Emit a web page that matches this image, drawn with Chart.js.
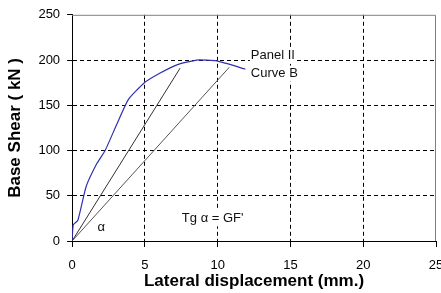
<!DOCTYPE html>
<html>
<head>
<meta charset="utf-8">
<script src="https://cdn.jsdelivr.net/npm/chart.js@4"></script>
<style>
  html, body { margin: 0; padding: 0; background: #fff; }
  #wrap { width: 441px; height: 293px; }
</style>
</head>
<body>
<div id="wrap"><canvas id="myChart" width="441" height="293"></canvas></div>
<script>
// curve B (blue)
const curveX = [0, 0.08, 0.4, 0.96, 1.7, 2.27, 3.07, 3.87, 4.95, 6.05, 7.2, 8.57, 9.94, 11.9];
const curveY = [0, 18, 23, 60, 85.6, 100, 129, 156.5, 174.7, 185.6, 194.7, 200, 199, 190];

// secant lines from origin
const line1X = [0, 7.42];
const line1Y = [0, 191];
const line2X = [0, 10.8];
const line2Y = [0, 192];

const xTicks = [0, 5, 10, 15, 20, 25];
const yTicks = [0, 50, 100, 150, 200, 250];

const toPts = (xs, ys) => xs.map((x, i) => ({ x: x, y: ys[i] }));

const FONT = '"Liberation Sans", Arial, sans-serif';
const noteFont = '13px ' + FONT;
// text notes: [text, x, y, align]
const notes = [
  ['Panel II', 12.28, 205, 'left'],
  ['Curve B', 12.28, 185, 'left'],
  ['Tg \u03b1 = GF\'', 7.54, 25, 'left'],
  ['\u03b1', 2.0, 15, 'center']
];

// frame on top / right + text notes
const extras = {
  id: 'extras',
  beforeDatasetsDraw(chart) {
    const { ctx, chartArea: a } = chart;
    ctx.save();
    ctx.strokeStyle = '#808080';
    ctx.lineWidth = 1;
    ctx.beginPath();
    ctx.moveTo(a.left, a.top + 0.5);
    ctx.lineTo(a.right - 0.5, a.top + 0.5);
    ctx.lineTo(a.right - 0.5, a.bottom);
    ctx.stroke();
    ctx.restore();
  },
  afterDatasetsDraw(chart) {
    const { ctx, scales } = chart;
    ctx.save();
    ctx.font = noteFont;
    ctx.textBaseline = 'middle';
    notes.forEach(n => {
      const w = ctx.measureText(n[0]).width;
      const x = scales.x.getPixelForValue(n[1]);
      const y = scales.y.getPixelForValue(n[2]);
      const left = n[3] === 'center' ? x - w / 2 : x;
      // white box behind note hides the grid
      ctx.fillStyle = '#fff';
      ctx.fillRect(left - 1, y - 8, w + 2, 16);
      ctx.fillStyle = '#111';
      ctx.textAlign = 'left';
      ctx.fillText(n[0], left, y);
    });
    ctx.restore();
  }
};

const ctx = document.getElementById('myChart').getContext('2d');

const config = {
  type: 'scatter',
  data: {
    datasets: [
      {
        data: toPts(line1X, line1Y),
        showLine: true,
        borderColor: '#333333',
        borderWidth: 1,
        pointRadius: 0
      },
      {
        data: toPts(line2X, line2Y),
        showLine: true,
        borderColor: '#555555',
        borderWidth: 1,
        pointRadius: 0
      },
      {
        data: toPts(curveX, curveY),
        showLine: true,
        borderColor: '#3030b0',
        borderWidth: 1.2,
        pointRadius: 0,
        tension: 0.15
      }
    ]
  },
  options: {
    responsive: false,
    animation: false,
    layout: { padding: { top: 5, right: 5, left: 5, bottom: 1 } },
    plugins: {
      legend: { display: false },
      tooltip: { enabled: false }
    },
    scales: {
      x: {
        type: 'linear',
        min: 0,
        max: 25,
        afterBuildTicks: s => { s.ticks = xTicks.map(v => ({ value: v })); },
        afterFit: s => { s.paddingRight = 0; },
        grid: {
          color: c => (c.tick && (c.tick.value === 0 || c.tick.value === 25)) ? 'rgba(0,0,0,0)' : '#000',
          lineWidth: 1,
          tickLength: 6,
          tickColor: '#000'
        },
        border: { display: true, color: '#000', width: 1, dash: [4, 3] },
        ticks: {
          color: '#000',
          padding: 11,
          maxRotation: 0,
          font: { family: FONT, size: 13 }
        },
        title: {
          display: true,
          text: 'Lateral displacement (mm.)',
          color: '#000',
          padding: { top: -13, bottom: 0 },
          font: { family: FONT, size: 17, weight: 'bold' }
        }
      },
      y: {
        type: 'linear',
        min: 0,
        max: 250,
        afterBuildTicks: s => { s.ticks = yTicks.map(v => ({ value: v })); },
        grid: {
          color: c => (c.tick && (c.tick.value === 0 || c.tick.value === 250)) ? 'rgba(0,0,0,0)' : '#000',
          lineWidth: 1,
          tickLength: 5,
          tickColor: '#000'
        },
        border: { display: true, color: '#000', width: 1, dash: [4, 3] },
        ticks: {
          color: '#000',
          padding: 7,
          font: { family: FONT, size: 13 }
        },
        title: {
          display: true,
          text: 'Base Shear ( kN )',
          color: '#000',
          padding: { top: 0, bottom: 6 },
          font: { family: FONT, size: 17, weight: 'bold' }
        }
      }
    }
  },
  plugins: [extras]
};

const myChart = new Chart(ctx, config);
</script>
</body>
</html>
